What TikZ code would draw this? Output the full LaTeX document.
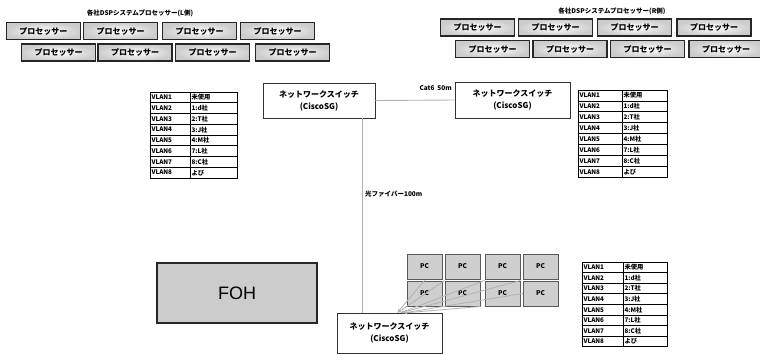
\documentclass[tikz,border=0pt]{standalone}
\usepackage{fontspec}
\setmainfont{Noto Sans CJK JP}
\newfontfamily\lat{Liberation Sans}
\usetikzlibrary{arrows.meta}
\begin{document}
\begin{tikzpicture}[x=1pt,y=-1pt,
  proc/.style={draw=black!85, line width=1.2pt, inner color=white, outer color=gray!40, minimum width=74pt, minimum height=17pt, inner sep=0pt, font=\bfseries\fontsize{8}{9}\selectfont},
  switchbox/.style={draw=black!80, line width=0.9pt, fill=white, align=center, inner sep=0pt, font=\bfseries\fontsize{8}{12}\selectfont},
  pcbox/.style={draw=black!65, line width=1pt, fill=gray!38, minimum width=35pt, minimum height=25pt, inner sep=0pt, font=\bfseries\fontsize{6.5}{7}\selectfont},
  cell/.style={draw=black, line width=0.8pt, inner sep=1.5pt, align=left, font=\bfseries\fontsize{6.3}{6.5}\selectfont},
  lbl/.style={font=\bfseries\fontsize{6.5}{7}\selectfont, inner sep=0pt},
  link/.style={draw=gray!60, line width=0.9pt},
  pcarrow/.style={draw=gray!60, line width=0.8pt, -{Latex[length=4pt,width=3pt]}}
]
\useasboundingbox (0,0) rectangle (760,354);
\clip (0,0) rectangle (760,354);

% titles
\node[lbl] (titleL) at (140,13) {各社DSPシステムプロセッサー(L側)};
\node[lbl] (titleR) at (612,11) {各社DSPシステムプロセッサー(R側)};

% left processors
\foreach \n/\x in {1/43.5,2/120.5,3/199.5,4/277.5}
  \node[proc] (pL1\n) at (\x,31) {プロセッサー};
\foreach \n/\x in {1/58.5,2/135,3/212.5,4/292.5}
  \node[proc] (pL2\n) at (\x,52.5) {プロセッサー};
% right processors
\foreach \n/\x in {1/477.5,2/555.5,3/634.5,4/714}
  \node[proc] (pR1\n) at (\x,27.5) {プロセッサー};
\foreach \n/\x in {1/492.5,2/570,3/647.5,4/726}
  \node[proc] (pR2\n) at (\x,49) {プロセッサー};

% switches
\node[switchbox, minimum width=112pt, minimum height=35pt] (sw1) at (319,100.5) {ネットワークスイッチ\\(CiscoSG)};
\node[switchbox, minimum width=115pt, minimum height=36pt] (sw2) at (512.5,100) {ネットワークスイッチ\\(CiscoSG)};
\node[switchbox, minimum width=105pt, minimum height=40pt] (sw3) at (389.5,333) {ネットワークスイッチ\\(CiscoSG)};

% links
\path[link] (sw1.east) -- (sw2.west);
\node[lbl, anchor=east] (cat) at (452,88) {Cat6\ \ 50m};
\coordinate (fx) at (362,0);
\path[link] (sw1.south -| fx) -- (sw3.north -| fx);
\node[lbl, anchor=west] (fib) at (365,194) {光ファイバー100m};

% FOH
\node[draw=black!85, line width=1.1pt, fill=gray!40, minimum width=160pt, minimum height=60pt, font=\lat\fontsize{18}{18}\selectfont] (foh) at (237,293) {FOH};

% PCs
\foreach \c/\x in {1/424.5,2/462.5,3/502.5,4/540.5}{
  \node[pcbox] (pc1\c) at (\x,266.5) {PC};
  \node[pcbox] (pc2\c) at (\x,293.5) {PC};
}
\coordinate (t1) at (397,313);
\coordinate (t2) at (400,313);
\coordinate (t3) at (403,313);
\path[pcarrow] (pc21.north) -- (t1);
\path[pcarrow] (pc22.north west) -- (t1);
\path[pcarrow] (pc23.north west) -- (t2);
\path[pcarrow] (pc23.north east) -- (t2);
\path[pcarrow] (pc24.west) -- (t3);
\path[pcarrow] (pc22.south east) -- (t3);

% VLAN tables
\newcommand\vlantab[6]{%
  \foreach \i/\a/\b in {1/VLAN1/未使用,2/VLAN2/1:d社,3/VLAN3/2:T社,4/VLAN4/3:J社,5/VLAN5/4:M社,6/VLAN6/7:L社,7/VLAN7/8:C社,8/VLAN8/よび}{
    \node[cell, minimum height=#6pt, text width=#4pt-3pt] (#1-\i-a) at ({#2+#4/2},{#3+(\i-0.5)*#6}) {\a};
    \node[cell, minimum height=#6pt, text width=#5pt-3pt] (#1-\i-b) at ({#2+#4+#5/2},{#3+(\i-0.5)*#6}) {\b};
  }}
\vlantab{tL}{150}{92}{40}{47}{10.75}
\vlantab{tR}{578}{90}{44}{45}{10.9}
\vlantab{tB}{582}{262}{41}{44}{10.6}
\end{tikzpicture}
\end{document}
